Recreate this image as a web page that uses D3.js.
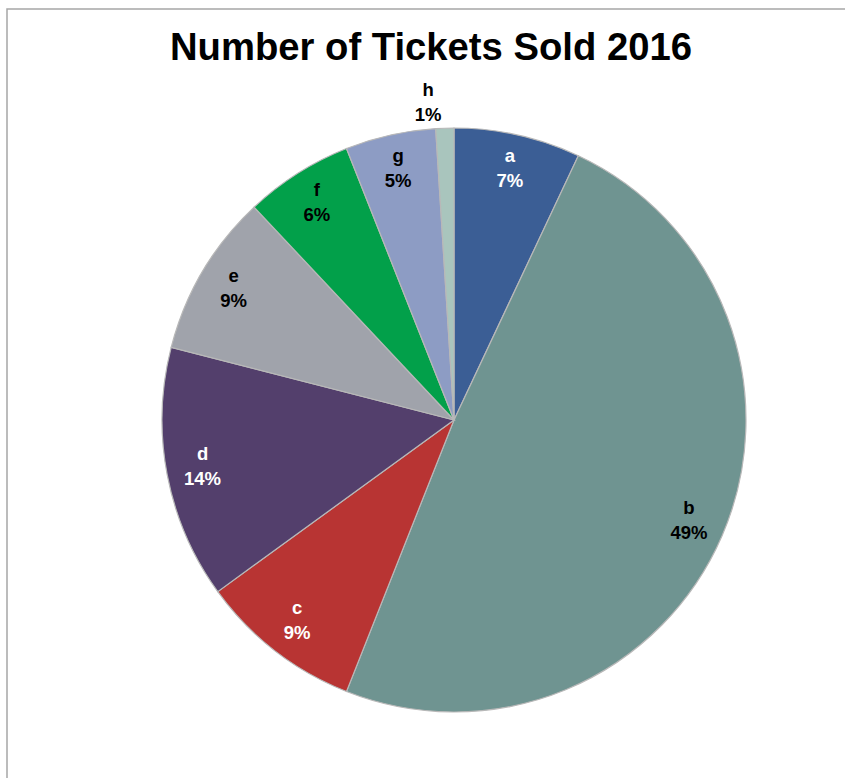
<!DOCTYPE html>
<html>
<head>
<meta charset="utf-8">
<script src="https://cdn.jsdelivr.net/npm/d3@7"></script>
<style>
  body { margin: 0; background: #fff; }
  svg text { font-family: "Liberation Sans", Arial, sans-serif; font-weight: bold; }
</style>
</head>
<body>
<svg width="845" height="778"></svg>
<script>
  var categories = ["a", "b", "c", "d", "e", "f", "g", "h"];
  var values = [7, 49, 9, 14, 9, 6, 5, 1];
  var colors = ["#3b5e95", "#6f9491", "#b83433", "#533f6c", "#a0a3ab", "#02a04a", "#8d9cc4", "#a9c5bd"];
  var labelColors = ["#fff", "#000", "#fff", "#fff", "#000", "#000", "#000", "#000"];

  var svg = d3.select("svg");
  var width = +svg.attr("width");
  var height = +svg.attr("height");

  // chart frame
  svg.append("rect")
    .attr("x", 7).attr("y", 9)
    .attr("width", width + 10).attr("height", height + 10)
    .attr("fill", "none")
    .attr("stroke", "#a6a6a6")
    .attr("stroke-width", 1.5);

  // title
  svg.append("text")
    .text("Number of Tickets Sold 2016")
    .attr("x", 431)
    .attr("y", 60)
    .attr("text-anchor", "middle")
    .attr("font-size", 38)
    .attr("textLength", 522)
    .attr("lengthAdjust", "spacingAndGlyphs")
    .attr("fill", "#000");

  var data = categories.map(function (c, i) { return { cat: c, value: values[i], i: i }; });
  var total = d3.sum(values);

  var cx = 454, cy = 420, radius = 292;

  var pie = d3.pie().sort(null).value(function (d) { return d.value; });
  var arc = d3.arc().innerRadius(0).outerRadius(radius);
  var labelArc = d3.arc().innerRadius(256).outerRadius(256);
  var outerLabelArc = d3.arc().innerRadius(316).outerRadius(316);

  var g = svg.append("g").attr("transform", "translate(" + cx + "," + cy + ")");

  var arcs = pie(data);

  g.selectAll("path")
    .data(arcs)
    .enter()
    .append("path")
    .attr("d", arc)
    .attr("fill", function (d) { return colors[d.data.i]; })
    .attr("stroke", "#b8b8b8")
    .attr("stroke-width", 1.2);

  // labels: the tiny slice gets its label outside, nudged left
  var labels = g.selectAll("g.label")
    .data(arcs)
    .enter()
    .append("g")
    .attr("class", "label")
    .attr("transform", function (d) {
      var outside = d.data.value / total < 0.03;
      var p = (outside ? outerLabelArc : labelArc).centroid(d);
      if (outside) p[0] -= 16;
      return "translate(" + p[0] + "," + p[1] + ")";
    })
    .attr("fill", function (d) { return labelColors[d.data.i]; })
    .attr("text-anchor", "middle")
    .attr("font-size", 18.5);

  labels.append("text")
    .attr("y", -8)
    .text(function (d) { return d.data.cat; });

  labels.append("text")
    .attr("y", 17)
    .text(function (d) { return Math.round(d.data.value / total * 100) + "%"; });
</script>
</body>
</html>
